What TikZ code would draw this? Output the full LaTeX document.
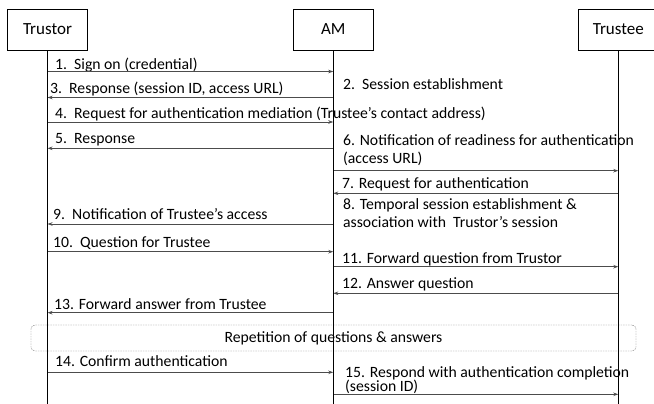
\documentclass[tikz,border=0pt]{standalone}
\usepackage{fontspec}
\setmainfont{Carlito}
\usetikzlibrary{arrows.meta}

\tikzset{
  party/.style={draw, line width=0.7pt, minimum width=80pt, minimum height=41pt,
    inner sep=0pt, font=\fontsize{17}{20}\selectfont},
  life/.style={line width=1.1pt},
  msg/.style={draw=black!70, line width=0.9pt, -{Stealth[length=5pt,width=3.5pt]}},
  lbl/.style={anchor=base west, inner sep=0pt, align=left,
    font=\fontsize{15.7}{18}\selectfont},
  repbox/.style={draw=black!55, dash pattern=on 1.5pt off 1pt, rounded corners=4pt,
    minimum width=605pt, minimum height=26pt, inner sep=0pt,
    font=\fontsize{15.7}{18}\selectfont}
}

\begin{document}
\begin{tikzpicture}[x=1pt,y=-1pt]
  \useasboundingbox (0,0) rectangle (654,404);
  % parties
  \node[party] (tor) at (47.5,29.5) {Trustor};
  \node[party] (am) at (333.3,29.5) {AM};
  \node[party] (tee) at (618.3,29.5) {Trustee};
  \coordinate (tor-end) at (tor |- 0,404);
  \coordinate (am-end) at (am |- 0,404);
  \coordinate (tee-end) at (tee |- 0,404);
  % message texts (multi-line ones sit on their last line)
  \node[lbl] (l1) at (55,69.5) {1.\ \ Sign on (credential)};
  \node[lbl] (l2) at (343,89) {2.\ \ Session establishment};
  \node[lbl] (l3) at (50,94) {3.\ \ Response (session ID, access URL)};
  \node[lbl] (l4) at (55,118) {4.\ \ Request for authentication mediation (Trustee’s contact address)};
  \node[lbl] (l5) at (55,143.5) {5.\ \ Response};
  \node[lbl] (l6) at (343,164) {6. Notification of readiness for authentication\\(access URL)};
  \node[lbl] (l7) at (342,188.3) {7. Request for authentication};
  \node[lbl] (l8) at (343,227) {8. Temporal session establishment \&\\association with\ \ Trustor’s session};
  \node[lbl] (l9) at (53,219.3) {9.\ \ Notification of Trustee’s access};
  \node[lbl] (l10) at (53,247.3) {10.\ \ Question for Trustee};
  \node[lbl] (l11) at (342,263.3) {11. Forward question from Trustor};
  \node[lbl] (l12) at (342,288.3) {12. Answer question};
  \node[lbl] (l13) at (54,309.3) {13. Forward answer from Trustee};
  \node[lbl] (l14) at (55,366.7) {14. Confirm authentication};
  \node[lbl] (l15) at (345,391.5) {15. Respond with authentication completion\\[-3.5pt](session ID)};
  \node[repbox] (rep) at (333.5,338) {Repetition of questions \& answers};
  % messages
  \begin{scope}
    \draw[msg] (tor |- 0,71.5) -- (am |- 0,71.5);
    \draw[msg] (am |- 0,97.5) -- (tor |- 0,97.5);
    \draw[msg] (tor |- 0,122) -- (am |- 0,122);
    \draw[msg] (am |- 0,148.3) -- (tor |- 0,148.3);
    \draw[msg] (am |- 0,170.7) -- (tee |- 0,170.7);
    \draw[msg] (tee |- 0,193.3) -- (am |- 0,193.3);
    \draw[msg] (am |- 0,224) -- (tor |- 0,224);
    \draw[msg] (tor |- 0,251.7) -- (am |- 0,251.7);
    \draw[msg] (am |- 0,266.7) -- (tee |- 0,266.7);
    \draw[msg] (tee |- 0,293.3) -- (am |- 0,293.3);
    \draw[msg] (am |- 0,312.7) -- (tor |- 0,312.7);
    \draw[msg] (tor |- 0,372.3) -- (am |- 0,372.3);
    \draw[msg] (am |- 0,394.3) -- (tee |- 0,394.3);
  \end{scope}
  % lifelines
  \draw[life] (tor.south) -- (tor-end);
  \draw[life] (am.south) -- (am-end);
  \draw[life] (tee.south) -- (tee-end);
\end{tikzpicture}
\end{document}
